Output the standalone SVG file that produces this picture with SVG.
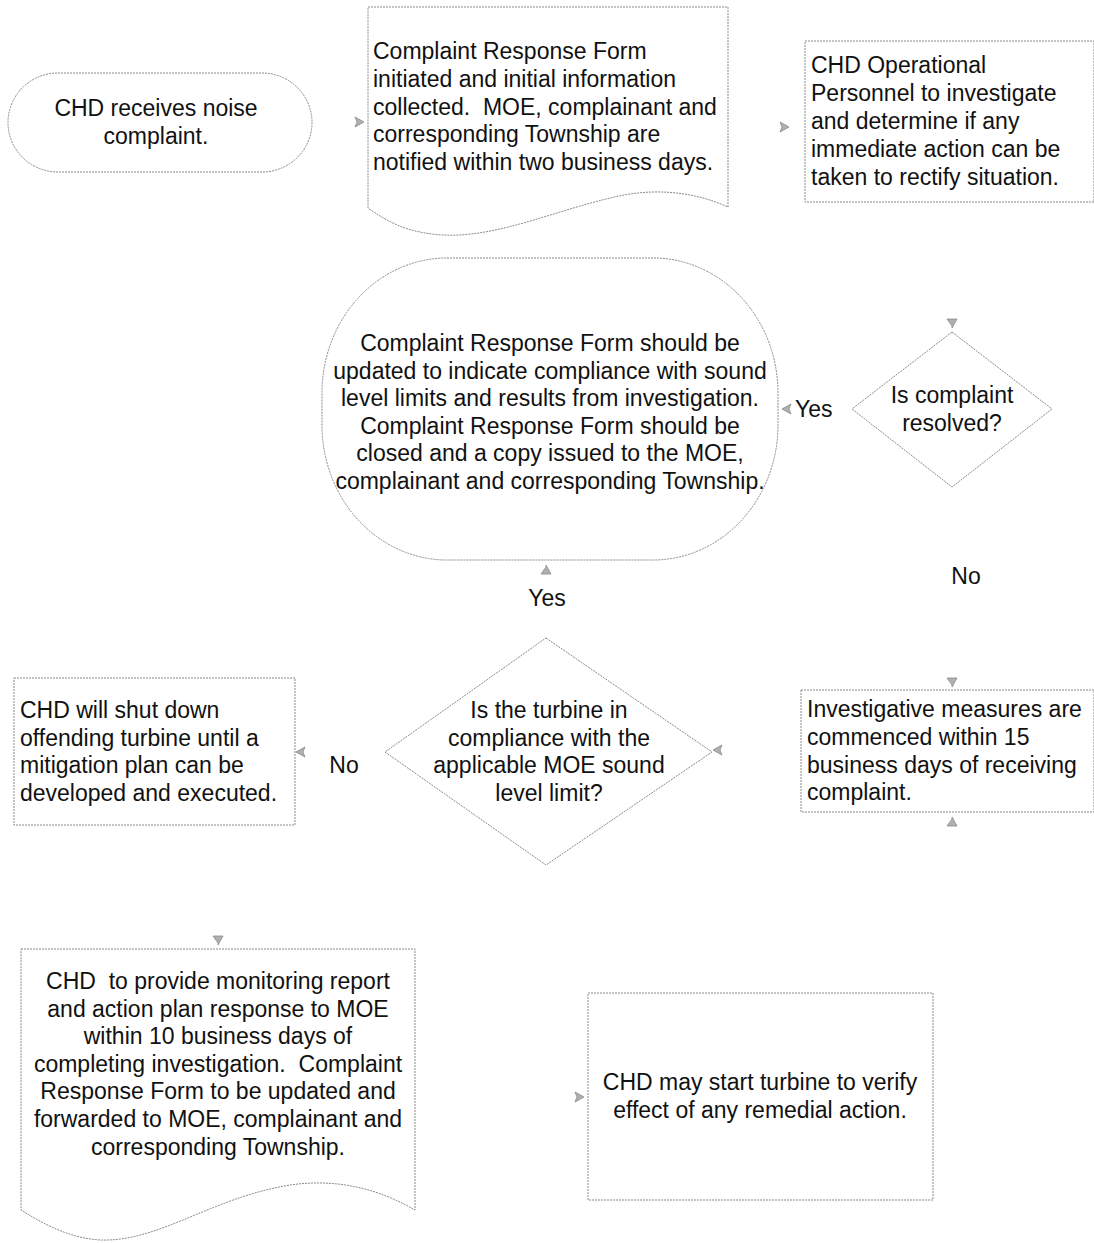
<svg xmlns="http://www.w3.org/2000/svg" width="1094" height="1243" viewBox="0 0 1094 1243">
<style>
.shape{fill:#fff;stroke:#8a8a8a;stroke-width:1;stroke-dasharray:2 1}
text{font-family:"Liberation Sans",Arial,sans-serif;font-size:23px;fill:#111;white-space:pre}
.c{text-anchor:middle}
.ah{fill:#b0b0b0;stroke:#8a8a8a;stroke-width:0.8}
</style>
<rect width="1094" height="1243" fill="#fff"/>
<g id="connectors">
<polygon class="ah" points="355,117 364,122 355,127 357,122"/>
<polygon class="ah" points="780,122 789,127 780,132 782,127"/>
<polygon class="ah" points="791,404 782,409 791,414 789,409"/>
<polygon class="ah" points="947,319 957,319 952,328 952,326"/>
<polygon class="ah" points="541,574 551,574 546,565 546,567"/>
<polygon class="ah" points="722,745 713,750 722,755 720,750"/>
<polygon class="ah" points="305,747 296,752 305,757 303,752"/>
<polygon class="ah" points="947,678 957,678 952,687 952,685"/>
<polygon class="ah" points="947,826 957,826 952,817 952,819"/>
<polygon class="ah" points="213,936 223,936 218,945 218,943"/>
<polygon class="ah" points="575,1092 584,1097 575,1102 577,1097"/>
</g>
<g id="n1">
<rect class="shape" x="8" y="73" width="304" height="99" rx="50" ry="50"/>
<text class="c" x="156" y="116">CHD receives noise</text>
<text class="c" x="156" y="144">complaint.</text>
</g>
<g id="n2">
<path class="shape" d="M368,7 H728 V207 C690,190 650,188 610,198 C540,215 480,245 420,232 C400,228 385,220 368,208 Z"/>
<text x="373" y="59">Complaint Response Form</text>
<text x="373" y="87">initiated and initial information</text>
<text x="373" y="115" xml:space="preserve">collected.  MOE, complainant and</text>
<text x="373" y="142">corresponding Township are</text>
<text x="373" y="170">notified within two business days.</text>
</g>
<g id="n3">
<rect class="shape" x="805" y="41" width="289" height="161"/>
<text x="811" y="73">CHD Operational</text>
<text x="811" y="101">Personnel to investigate</text>
<text x="811" y="129">and determine if any</text>
<text x="811" y="157">immediate action can be</text>
<text x="811" y="185">taken to rectify situation.</text>
</g>
<g id="n4">
<rect class="shape" x="322" y="258" width="456" height="302" rx="125" ry="135"/>
<text class="c" x="550" y="351">Complaint Response Form should be</text>
<text class="c" x="550" y="379">updated to indicate compliance with sound</text>
<text class="c" x="550" y="406">level limits and results from investigation.</text>
<text class="c" x="550" y="434">Complaint Response Form should be</text>
<text class="c" x="550" y="461">closed and a copy issued to the MOE,</text>
<text class="c" x="550" y="489">complainant and corresponding Township.</text>
</g>
<g id="d1">
<polygon class="shape" points="952,332 1052,409 952,487 852,409"/>
<text class="c" x="952" y="403">Is complaint</text>
<text class="c" x="952" y="431">resolved?</text>
</g>
<g id="labels">
<text x="795" y="417">Yes</text>
<text class="c" x="966" y="584">No</text>
<text class="c" x="547" y="606">Yes</text>
<text class="c" x="344" y="773">No</text>
</g>
<g id="d2">
<polygon class="shape" points="546,638 712,752 546,865 385,752"/>
<text class="c" x="549" y="718">Is the turbine in</text>
<text class="c" x="549" y="746">compliance with the</text>
<text class="c" x="549" y="773">applicable MOE sound</text>
<text class="c" x="549" y="801">level limit?</text>
</g>
<g id="n5">
<rect class="shape" x="14" y="678" width="281" height="147"/>
<text x="20" y="718">CHD will shut down</text>
<text x="20" y="746">offending turbine until a</text>
<text x="20" y="773">mitigation plan can be</text>
<text x="20" y="801">developed and executed.</text>
</g>
<g id="n6">
<rect class="shape" x="801" y="690" width="293" height="122"/>
<text x="807" y="717">Investigative measures are</text>
<text x="807" y="745">commenced within 15</text>
<text x="807" y="773">business days of receiving</text>
<text x="807" y="800">complaint.</text>
</g>
<g id="n7">
<path class="shape" d="M21,949 H415 V1210 C380,1190 340,1178 290,1185 C210,1198 160,1242 100,1240 C70,1238 45,1225 21,1210 Z"/>
<text class="c" x="218" y="989" xml:space="preserve">CHD  to provide monitoring report</text>
<text class="c" x="218" y="1017">and action plan response to MOE</text>
<text class="c" x="218" y="1044">within 10 business days of</text>
<text class="c" x="218" y="1072" xml:space="preserve">completing investigation.  Complaint</text>
<text class="c" x="218" y="1099">Response Form to be updated and</text>
<text class="c" x="218" y="1127">forwarded to MOE, complainant and</text>
<text class="c" x="218" y="1155">corresponding Township.</text>
</g>
<g id="n8">
<rect class="shape" x="588" y="993" width="345" height="207"/>
<text class="c" x="760" y="1090">CHD may start turbine to verify</text>
<text class="c" x="760" y="1118">effect of any remedial action.</text>
</g>
</svg>
